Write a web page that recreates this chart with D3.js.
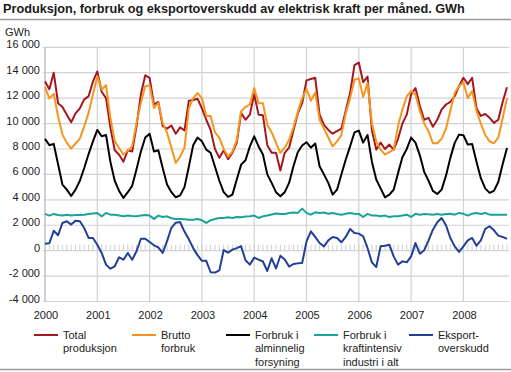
<!DOCTYPE html>
<html>
<head>
<meta charset="utf-8">
<script src="https://cdn.jsdelivr.net/npm/d3@7"></script>
<style>
  html, body { margin: 0; padding: 0; background: #fff; }
  svg { display: block; font-family: "Liberation Sans", Arial, sans-serif; }
</style>
</head>
<body>
<svg id="chart" width="511" height="372"></svg>
<script>
// ---- data (GWh), monthly Jan 2000 – Nov 2008 ----
const yearLabels = ["2000","2001","2002","2003","2004","2005","2006","2007","2008"];
const yTicks = [-4000,-2000,0,2000,4000,6000,8000,10000,12000,14000,16000];

const totalProduksjon = [
  13300,12700,14000,11600,11300,10700,10100,10800,11200,11900,
  12150,13300,14100,12500,12000,9700,7900,7550,7000,7900,
  7800,9800,12300,13800,13600,11500,11700,9800,9600,9850,
  9200,9700,9450,11800,11850,11950,11200,10300,9500,8000,
  7300,7900,7200,7700,8500,10840,10300,10700,12300,10700,
  10650,8300,7700,7700,6300,7700,8100,9450,10800,11600,
  13400,13500,13600,10700,9900,9500,9200,9400,9600,11000,
  12400,14600,14800,13250,13700,9500,7950,8500,8000,8350,
  7950,8800,10000,10700,12300,12800,11400,10300,10450,9750,
  10300,11100,11500,11700,12150,12950,13600,13100,13600,11200,
  10600,10750,10450,10050,10300,11700,12850
];
const bruttoForbruk = [
  12860,11970,12340,10580,9130,8480,8030,8430,8820,9790,
  10840,12280,13730,12680,13020,10450,8610,8080,7560,7870,
  8220,10050,11630,12940,13020,11230,11630,10050,9270,8100,
  6900,7400,8100,11200,12000,12400,12000,10600,10600,9300,
  8900,8000,7400,7800,8700,10970,11300,11500,12800,11600,
  11600,9900,9300,8500,7700,8100,8700,9700,10900,12000,
  12700,11800,12450,10300,9600,8900,8200,8600,9100,10800,
  12000,13450,13550,12100,13200,10000,8600,7950,7560,7750,
  7950,9800,11100,12150,12550,12300,11000,10000,9400,8450,
  8450,8800,9600,11000,12400,12950,13250,12000,12550,11000,
  10000,9100,8600,8450,8900,10400,12000
];
const alminneligForsyning = [
  8800,8300,8400,6800,5200,4800,4300,4800,5500,6500,
  7600,8600,9500,9000,9100,7000,5500,4700,4150,4600,
  5100,6400,7800,8900,9200,7800,7900,6500,5200,4600,
  4200,4350,5000,6600,8300,8900,8600,7950,7700,6600,
  5500,4600,4230,4410,5600,6770,7110,8200,9000,8200,
  7560,6000,5330,4600,4280,4600,5330,6640,7740,8270,
  8530,8100,8430,6640,6000,5330,4410,4800,6000,7170,
  8200,9300,9450,8500,9100,7000,5600,4900,4200,4400,
  4800,6100,7350,8000,8900,8500,7500,6200,5500,4700,
  4460,4800,5900,7300,8480,9130,9080,8350,8400,7000,
  5700,4900,4550,4700,5400,6800,8080
];
const kraftintensivIndustri = [
  2890,2760,2890,2800,2760,2830,2760,2800,2800,2830,
  2890,2920,2970,2700,2970,2830,2830,2760,2700,2760,
  2720,2700,2760,2800,2760,2500,2760,2650,2700,2550,
  2490,2490,2470,2440,2440,2490,2390,2180,2390,2490,
  2570,2570,2620,2570,2650,2620,2680,2700,2760,2570,
  2700,2760,2850,2920,2890,2890,2970,3000,2970,3310,
  2970,2830,3020,2970,3000,2910,2970,2890,2830,2900,
  2970,2910,2890,2650,2890,2760,2760,2700,2760,2650,
  2700,2700,2760,2830,2650,2910,2830,2890,2860,2830,
  2890,2830,2890,2910,2830,2970,2900,2760,2910,2970,
  2890,2970,2830,2830,2830,2830,2830
];
const eksportoverskudd = [
  550,580,1570,1210,2180,2310,2050,2360,2310,1780,
  1000,1000,470,-180,-1100,-1420,-1230,-520,-710,-180,
  -710,-50,940,940,680,420,260,-180,750,1800,
  2200,2250,1500,900,200,-350,-800,-800,-1700,-1720,
  -1550,50,-150,80,200,350,-750,-1100,-550,-700,
  -850,-1600,-600,-1400,-400,-700,-1250,-1050,-1000,-970,
  730,1520,1080,600,340,810,1080,1000,660,1080,
  1710,1390,1340,1130,210,-920,-1290,340,390,470,
  -450,-1100,-840,-920,-450,600,-240,30,810,1650,
  2230,2570,2000,1000,340,-100,340,810,1000,390,
  810,1710,1920,1600,1180,1080,920
];

const series = [
  { name: ["Total", "produksjon"], values: totalProduksjon, color: "#a3171f" },
  { name: ["Brutto", "forbruk"], values: bruttoForbruk, color: "#f7941d" },
  { name: ["Forbruk i", "alminnelig", "forsyning"], values: alminneligForsyning, color: "#000000" },
  { name: ["Forbruk i", "kraftintensiv", "industri i alt"], values: kraftintensivIndustri, color: "#1aa39a" },
  { name: ["Eksport-", "overskudd"], values: eksportoverskudd, color: "#233f95" }
];

const nMonths = totalProduksjon.length;

// ---- layout ----
const svg = d3.select("#chart");
const W = 511;
const plotL = 45, plotR = 509, plotT = 47.3, plotB = 301.5;

const x = d3.scaleLinear().domain([0, nMonths - 1]).range([plotL, 507]);
const y = d3.scaleLinear().domain([-4000, 16000]).range([plotB, plotT]);

// title
svg.append("text")
  .attr("x", 3).attr("y", 12.5)
  .attr("font-size", 12.7).attr("font-weight", "bold").attr("fill", "#1a1a1a")
  .text("Produksjon, forbruk og eksportoverskudd av elektrisk kraft per måned. GWh");
svg.append("line").attr("x1", 0).attr("x2", W).attr("y1", 19.5).attr("y2", 19.5)
  .attr("stroke", "#9a9a9a").attr("stroke-width", 1.5);

// unit label
svg.append("text").attr("x", 5).attr("y", 35.5)
  .attr("font-size", 11).attr("fill", "#222").text("GWh");

// horizontal grid
const fmt = v => d3.format(",")(v).replace(/,/g, " ").replace("−", "-");
svg.append("g").selectAll("line").data(yTicks).join("line")
  .attr("x1", plotL - 2).attr("x2", plotR)
  .attr("y1", d => y(d)).attr("y2", d => y(d))
  .attr("stroke", "#d2d2d2").attr("stroke-width", 1.2);

svg.append("g").selectAll("text").data(yTicks).join("text")
  .attr("x", 40).attr("y", d => y(d) + 1)
  .attr("text-anchor", "end").attr("font-size", 11).attr("fill", "#222")
  .text(d => fmt(d));

// vertical year grid
const yearIdx = yearLabels.map((_, k) => k * 12);
svg.append("g").selectAll("line").data(yearIdx).join("line")
  .attr("x1", d => x(d)).attr("x2", d => x(d))
  .attr("y1", plotT).attr("y2", plotB)
  .attr("stroke", "#d2d2d2").attr("stroke-width", 1.2);

// left axis line
svg.append("line").attr("x1", plotL).attr("x2", plotL).attr("y1", plotT).attr("y2", plotB)
  .attr("stroke", "#c4c4c4").attr("stroke-width", 1.2);

// monthly minor ticks on zero line
svg.append("g").selectAll("line").data(d3.range(nMonths)).join("line")
  .attr("x1", d => x(d)).attr("x2", d => x(d))
  .attr("y1", y(0) - 6).attr("y2", y(0))
  .attr("stroke", "#cfcfcf").attr("stroke-width", 1);

// year labels
svg.append("g").selectAll("text").data(yearLabels).join("text")
  .attr("x", (d, k) => x(k * 12) + 1).attr("y", 319)
  .attr("text-anchor", "middle").attr("font-size", 11).attr("fill", "#222")
  .text(d => d);

// lines
const line = d3.line().x((d, i) => x(i)).y(d => y(d));
svg.append("g").selectAll("path").data(series).join("path")
  .attr("d", s => line(s.values))
  .attr("fill", "none").attr("stroke", s => s.color)
  .attr("stroke-width", 2).attr("stroke-linejoin", "round");

// legend
const legX = [34, 132, 226, 314, 409];
const leg = svg.append("g").selectAll("g").data(series).join("g")
  .attr("transform", (s, k) => `translate(${legX[k]},0)`);
leg.append("line").attr("x1", 0).attr("x2", 24).attr("y1", 335).attr("y2", 335)
  .attr("stroke", s => s.color).attr("stroke-width", 2);
leg.append("text").attr("font-size", 11).attr("fill", "#222")
  .selectAll("tspan").data(s => s.name).join("tspan")
  .attr("x", 29).attr("y", (d, j) => 339 + j * 13.3).text(d => d);

// bottom rule
svg.append("line").attr("x1", 0).attr("x2", W).attr("y1", 369.5).attr("y2", 369.5)
  .attr("stroke", "#9a9a9a").attr("stroke-width", 1.5);
</script>
</body>
</html>
